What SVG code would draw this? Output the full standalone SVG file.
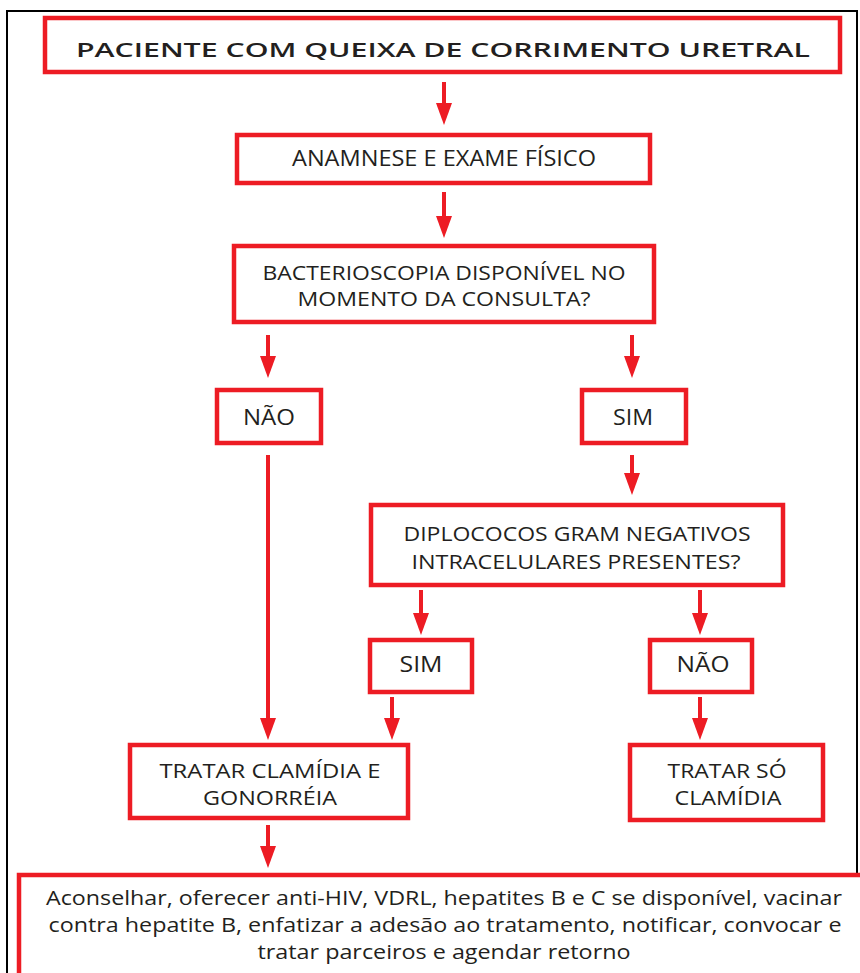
<svg xmlns="http://www.w3.org/2000/svg" width="860" height="973" viewBox="0 0 860 973">
<defs>
<style>
.box{fill:#fff;stroke:#ED1C24;stroke-width:4.5}
.t{font-family:"Open Sans","Liberation Sans",sans-serif;font-size:20px;fill:#231F20;text-anchor:middle}
.s{font-size:22px}
.c{stroke:#ED1C24;stroke-width:4;fill:none}
</style>
<marker id="ah" viewBox="0 0 22 16" markerWidth="22" markerHeight="16" refX="14" refY="8" orient="auto" markerUnits="userSpaceOnUse">
<path d="M0,0 L22,8 L0,16 z" fill="#ED1C24"/>
</marker>
</defs>
<rect width="860" height="973" fill="#fff"/>
<rect x="7" y="11" width="850" height="980" fill="none" stroke="#000" stroke-width="2"/>

<g id="n1"><rect class="box" x="45" y="18" width="795" height="54"/>
<text class="t" x="443" y="57" font-size="28" font-weight="600" textLength="734" lengthAdjust="spacingAndGlyphs">PACIENTE COM QUEIXA DE CORRIMENTO URETRAL</text></g>

<g id="n2"><rect class="box" x="237" y="135" width="413" height="48"/>
<text class="t s" x="444" y="166" textLength="304" lengthAdjust="spacingAndGlyphs">ANAMNESE E EXAME FÍSICO</text></g>

<g id="n3"><rect class="box" x="234" y="246" width="420" height="76"/>
<text class="t" x="444" y="280" textLength="363" lengthAdjust="spacingAndGlyphs">BACTERIOSCOPIA DISPONÍVEL NO</text>
<text class="t" x="444" y="306" textLength="293" lengthAdjust="spacingAndGlyphs">MOMENTO DA CONSULTA?</text></g>

<g id="n4"><rect class="box" x="217" y="390" width="104" height="53"/>
<text class="t s" x="269" y="425" textLength="52" lengthAdjust="spacingAndGlyphs">NÃO</text></g>

<g id="n5"><rect class="box" x="582" y="390" width="104" height="53"/>
<text class="t s" x="633" y="425" textLength="40" lengthAdjust="spacingAndGlyphs">SIM</text></g>

<g id="n6"><rect class="box" x="371" y="505" width="412" height="80"/>
<text class="t" x="577" y="541" textLength="347" lengthAdjust="spacingAndGlyphs">DIPLOCOCOS GRAM NEGATIVOS</text>
<text class="t" x="576" y="569" textLength="329" lengthAdjust="spacingAndGlyphs">INTRACELULARES PRESENTES?</text></g>

<g id="n7"><rect class="box" x="370" y="640" width="102" height="52"/>
<text class="t s" x="421" y="672" textLength="43" lengthAdjust="spacingAndGlyphs">SIM</text></g>

<g id="n8"><rect class="box" x="650" y="640" width="102" height="52"/>
<text class="t s" x="703" y="672" textLength="53" lengthAdjust="spacingAndGlyphs">NÃO</text></g>

<g id="n9"><rect class="box" x="130" y="745" width="278" height="73"/>
<text class="t" x="270" y="778" textLength="221" lengthAdjust="spacingAndGlyphs">TRATAR CLAMÍDIA E</text>
<text class="t" x="270" y="805" textLength="134" lengthAdjust="spacingAndGlyphs">GONORRÉIA</text></g>

<g id="n10"><rect class="box" x="630" y="745" width="193" height="75"/>
<text class="t" x="727" y="778" textLength="119" lengthAdjust="spacingAndGlyphs">TRATAR SÓ</text>
<text class="t" x="728" y="805" textLength="107" lengthAdjust="spacingAndGlyphs">CLAMÍDIA</text></g>

<g id="n11"><rect class="box" x="19" y="875" width="850" height="110"/>
<text class="t" x="444" y="905" textLength="796" lengthAdjust="spacingAndGlyphs">Aconselhar, oferecer anti-HIV, VDRL, hepatites B e C se disponível, vacinar</text>
<text class="t" x="445" y="932" textLength="793" lengthAdjust="spacingAndGlyphs">contra hepatite B, enfatizar a adesão ao tratamento, notificar, convocar e</text>
<text class="t" x="444" y="959" textLength="373" lengthAdjust="spacingAndGlyphs">tratar parceiros e agendar retorno</text></g>

<g id="connectors">
<line class="c" x1="444" y1="82" x2="444" y2="117" marker-end="url(#ah)"/>
<line class="c" x1="444" y1="192" x2="444" y2="230" marker-end="url(#ah)"/>
<line class="c" x1="268" y1="335" x2="268" y2="370" marker-end="url(#ah)"/>
<line class="c" x1="632" y1="335" x2="632" y2="370" marker-end="url(#ah)"/>
<line class="c" x1="268" y1="455" x2="268" y2="732" marker-end="url(#ah)"/>
<line class="c" x1="632" y1="455" x2="632" y2="487" marker-end="url(#ah)"/>
<line class="c" x1="421" y1="590" x2="421" y2="627" marker-end="url(#ah)"/>
<line class="c" x1="700" y1="590" x2="700" y2="627" marker-end="url(#ah)"/>
<line class="c" x1="392" y1="697" x2="392" y2="732" marker-end="url(#ah)"/>
<line class="c" x1="700" y1="697" x2="700" y2="732" marker-end="url(#ah)"/>
<line class="c" x1="268" y1="825" x2="268" y2="860" marker-end="url(#ah)"/>
</g>
</svg>
